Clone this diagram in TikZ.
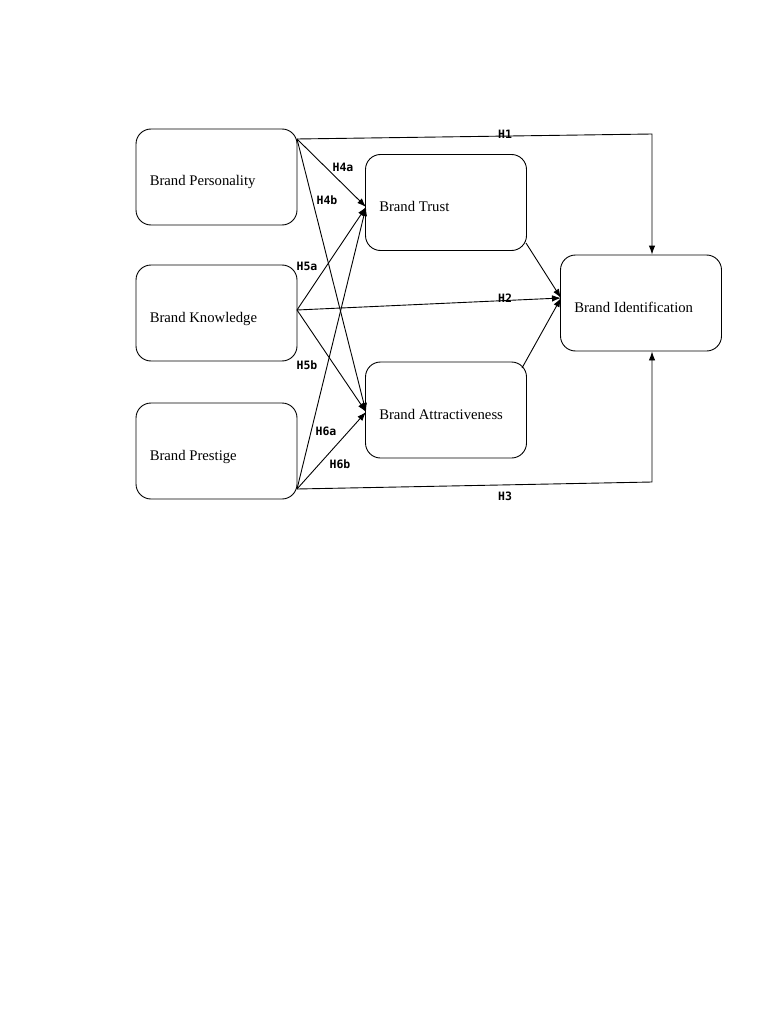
\documentclass[tikz,border=0pt]{standalone}
\usepackage{fontspec}
\setmainfont{Liberation Serif}
\newfontfamily\labfont{DejaVu Sans Mono}
\usetikzlibrary{arrows.meta}
\begin{document}
\begin{tikzpicture}[x=1pt,y=-1pt,
  box/.style={draw,line width=0.9pt,rounded corners=15pt,minimum width=161pt,minimum height=96pt},
  txt/.style={anchor=base west,inner sep=0pt,xshift=14pt,yshift=-9pt,font=\fontsize{14.7}{16}\selectfont},
  conn/.style={line width=0.9pt},
  arr/.style={conn,-{Latex[length=9pt,width=6.5pt]}},
  hl/.style={font=\labfont\bfseries\fontsize{11.5}{12}\selectfont,inner sep=1pt}]
\useasboundingbox (0,0) rectangle (768,1024);
\node[box] (bp) at (216.5,177) {};
\node[box] (bk) at (216.5,313) {};
\node[box] (bpr) at (216.5,451) {};
\node[box] (bt) at (446,202.5) {};
\node[box] (ba) at (446,410) {};
\node[box] (bi) at (641,303) {};
\node[txt] (tbp) at (bp.west) {Brand Personality};
\node[txt] (tbk) at (bk.west) {Brand Knowledge};
\node[txt] (tbpr) at (bpr.west) {Brand Prestige};
\node[txt] (tbt) at (bt.west) {Brand Trust};
\node[txt] (tba) at (ba.west) {Brand Attractiveness};
\node[txt] (tbi) at (bi.west) {Brand Identification};
\coordinate (po) at (297,139);
\coordinate (ko) at (297,310);
\coordinate (ro) at (297,489);
\coordinate (tin) at (366,207);
\coordinate (ain) at (366,412);
\coordinate (iin) at (561,298);
\coordinate (tout) at (526,243);
\coordinate (aout) at (522,368);
\coordinate (h1c) at (652,134);
\coordinate (h3c) at (652,482);
% H1
\draw[arr] (po) -- (h1c) -- (bi.north -| h1c);
\node[hl] (l1) at (505,134) {H1};
% H3
\draw[arr] (ro) -- (h3c) -- (bi.south -| h3c);
\node[hl] (l3) at (505,496) {H3};
% to trust
\draw[arr] (po) -- (tin);
\draw[arr] (ko) -- (tin);
\draw[arr] (ro) -- (tin);
% to attractiveness
\draw[arr] (po) -- (ain);
\draw[arr] (ko) -- (ain);
\draw[arr] (ro) -- (ain);
% H2 and mediators
\draw[arr] (ko) -- (iin);
\draw[arr] (tout) -- (iin);
\draw[arr] (aout) -- (iin);
\node[hl] (l2) at (505,298) {H2};
\node[hl] (l4a) at (343,167) {H4a};
\node[hl] (l4b) at (327,200) {H4b};
\node[hl] (l5a) at (307,266) {H5a};
\node[hl] (l5b) at (307,365) {H5b};
\node[hl] (l6a) at (326,431) {H6a};
\node[hl] (l6b) at (340,464) {H6b};
\end{tikzpicture}
\end{document}
